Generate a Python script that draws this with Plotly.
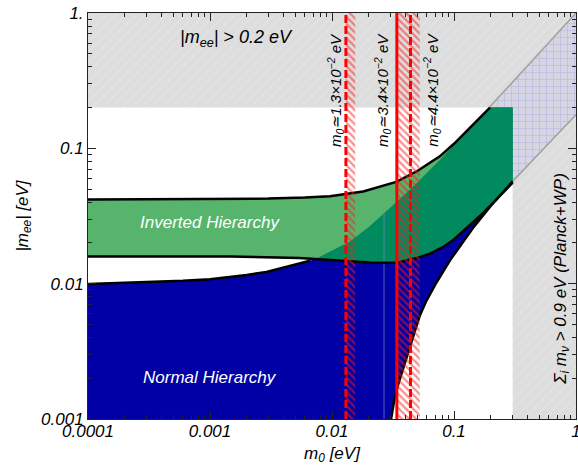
import numpy as np
import plotly.graph_objects as go

# ---------------- data ----------------
ih_up_m0 = [1e-4, 1e-3, 3e-3, 6e-3, 0.0096, 0.018, 0.0336, 0.05, 0.0765, 0.1, 0.13, 0.16, 0.197]
ih_up    = [0.0418, 0.0420, 0.0425, 0.0433, 0.0443, 0.0480, 0.0565, 0.0680, 0.0873, 0.108, 0.137, 0.166, 0.200]

ih_lo_m0 = [1e-4, 1.45e-3, 5.4e-3, 7.6e-3, 0.0204, 0.034, 0.0524, 0.065, 0.0809, 0.1, 0.127, 0.163, 0.22, 0.3025]
ih_lo    = [0.0159, 0.0159, 0.0155, 0.0152, 0.01435, 0.01428, 0.0157, 0.0168, 0.0186, 0.0212, 0.0256, 0.0316, 0.0415, 0.0557]

nh_up_m0 = [1e-4, 3e-4, 6e-4, 1e-3, 1.5e-3, 2e-3, 2.9e-3, 4e-3, 5.4e-3, 6.6e-3, 7.6e-3, 0.014, 0.02, 0.034,
            0.05, 0.0765, 0.1, 0.13, 0.197]
nh_up    = [0.00993, 0.0102, 0.0105, 0.0108, 0.0112, 0.0116, 0.0122, 0.0131, 0.0140, 0.0148, 0.0155, 0.0205,
            0.0262, 0.0403, 0.056, 0.082, 0.105, 0.135, 0.200]

nh_lo_m0 = [0.0305, 0.0325, 0.035, 0.0382, 0.045, 0.0524, 0.0595, 0.0718, 0.0924, 0.115, 0.143, 0.2, 0.3025]
nh_lo    = [0.001, 0.0014, 0.00182, 0.00236, 0.0038, 0.0058, 0.0075, 0.0102, 0.0148, 0.0197, 0.0258, 0.0375, 0.057]

cross_m0 = 0.0066          # where NH upper enters the IH band
mee_limit = 0.2            # |m_ee| > 0.2 eV excluded
m0_limit = 0.3025          # sum m_i > 0.9 eV excluded
diag_up_m0 = [0.194, 1.0]
diag_up    = [0.2, 1.0]
diag_lo_m0 = [0.3025, 1.0]
diag_lo    = [0.057, 0.177]

red_dashed = [0.013, 0.044]
red_solid = [0.034]
hatch_bands = [(0.013, 0.0155), (0.034, 0.0524)]
seam_m0 = 0.0267
seam_top = 0.033

xmin, xmax, ymin, ymax = 1e-4, 1.0, 1e-3, 1.0
x_major = [1e-4, 1e-3, 1e-2, 1e-1, 1]
x_major_text = ["0.0001", "0.001", "0.01", "0.1", "1"]
y_major = [1e-3, 1e-2, 1e-1, 1]
y_major_text = ["0.001", "0.01", "0.1", "1."]

BLUE = "#0000a4"
LGREEN = "#56b46c"
DGREEN = "#008a5e"

fig = go.Figure()

def poly(xs, ys, **kw):
    fig.add_trace(go.Scatter(x=xs, y=ys, mode="lines", fill="toself", line=dict(width=0),
                             hoverinfo="skip", showlegend=False, **kw))

def line(xs, ys, **kw):
    fig.add_trace(go.Scatter(x=xs, y=ys, mode="lines", hoverinfo="skip", showlegend=False, **kw))

# grey excluded regions (L-shape)
poly([xmin, m0_limit, m0_limit, xmax, xmax, xmin, xmin],
     [mee_limit, mee_limit, ymin, ymin, ymax, ymax, mee_limit],
     fillcolor="#dcdcdc",
     fillpattern=dict(shape="/", fgcolor="#eaeaea", bgcolor="#dddddd", size=7, solidity=0.15))

# blue hatched continuation band
poly([diag_up_m0[0], diag_up_m0[1], diag_lo_m0[1], diag_lo_m0[0], diag_up_m0[0]],
     [diag_up[0], diag_up[1], diag_lo[1], diag_lo[0], diag_up[0]],
     fillcolor="#d2d2e6",
     fillpattern=dict(shape="+", fgcolor="#a0a0e0", bgcolor="#d6d6e2", size=7, solidity=0.2))
line(diag_up_m0, diag_up, line=dict(color="#a0a0a0", width=1.5))
line(diag_lo_m0, diag_lo, line=dict(color="#a0a0a0", width=1.5))

# NH region
nx = list(nh_up_m0) + [m0_limit] + list(nh_lo_m0[::-1]) + [xmin, xmin]
ny = list(nh_up) + [mee_limit] + list(nh_lo[::-1]) + [ymin, nh_up[0]]
poly(nx, ny, fillcolor=BLUE)

# IH region
ix = list(ih_up_m0) + [m0_limit] + list(ih_lo_m0[::-1]) + [ih_up_m0[0]]
iy = list(ih_up) + [mee_limit] + list(ih_lo[::-1]) + [ih_up[0]]
poly(ix, iy, fillcolor=LGREEN)

# overlap region
ox = [m for m in nh_up_m0 if m >= cross_m0] + [m0_limit] + [m for m in ih_lo_m0[::-1] if m >= cross_m0]
oy = [v for m, v in zip(nh_up_m0, nh_up) if m >= cross_m0] + [mee_limit] + \
     [v for m, v in zip(ih_lo_m0[::-1], ih_lo[::-1]) if m >= cross_m0]
ox.append(ox[0]); oy.append(oy[0])
poly(ox, oy, fillcolor=DGREEN)

# seam line
line([seam_m0, seam_m0], [ymin, seam_top], line=dict(color="rgba(110,140,190,0.7)", width=1))

# boundaries
line(ih_up_m0, ih_up, line=dict(color="black", width=2.5))
line(ih_lo_m0, ih_lo, line=dict(color="black", width=2.5))
line([m for m in nh_up_m0 if m <= cross_m0], [v for m, v in zip(nh_up_m0, nh_up) if m <= cross_m0],
     line=dict(color="black", width=2.5))
line(nh_lo_m0, nh_lo, line=dict(color="black", width=2.5))

# red hatched bands
for a, b in hatch_bands:
    poly([a, b, b, a, a], [ymin, ymin, ymax, ymax, ymin], fillcolor="rgba(0,0,0,0)",
         fillpattern=dict(shape="\\", fgcolor="#ff1a1a", bgcolor="rgba(0,0,0,0)", size=5, solidity=0.45))
for v in red_solid:
    line([v, v], [ymin, ymax], line=dict(color="#ff0000", width=3))
for v in red_dashed:
    line([v, v], [ymin, ymax], line=dict(color="#ff0000", width=3, dash="8px,3px"))

FONT = "Liberation Sans, Arial, sans-serif"

def ann(text, x, y, size=16, color="black", angle=0, xanchor="center", yanchor="middle"):
    fig.add_annotation(text=text, x=x, y=y, xref="paper", yref="paper", showarrow=False,
                       textangle=angle, xanchor=xanchor, yanchor=yanchor,
                       font=dict(family=FONT, size=size, color=color, style="italic"))

ann("|m<sub>ee</sub>| > 0.2 eV", 0.305, 0.938, size=18)
ann("Inverted Hierarchy", 0.25, 0.485, size=17, color="white")
ann("Normal Hierarchy", 0.25, 0.103, size=17, color="white")
ann("m<sub>0</sub>≃1.3×10<sup>−2</sup> eV", 0.506, 0.81, size=15, angle=-90)
ann("m<sub>0</sub>≃3.4×10<sup>−2</sup> eV", 0.602, 0.81, size=15, angle=-90)
ann("m<sub>0</sub>≃4.4×10<sup>−2</sup> eV", 0.704, 0.81, size=15, angle=-90)
ann("Σ<sub>i</sub> m<sub>ν</sub> > 0.9 eV (Planck+WP)", 0.971, 0.345, size=17, angle=-90)

def minor_vals(lo, hi):
    out = []
    e = int(np.floor(np.log10(lo)))
    while 10.0 ** e < hi:
        for k in range(2, 10):
            v = k * 10.0 ** e
            if lo < v < hi:
                out.append(v)
        e += 1
    return out

axis_common = dict(type="log", showgrid=False, zeroline=False, showline=True, linecolor="#222",
                   linewidth=1, mirror="ticks", ticks="inside", ticklen=8, tickcolor="#222",
                   ticklabeloverflow="allow", automargin=False,
                   tickfont=dict(family=FONT, size=17, color="black", style="italic"))

fig.update_xaxes(**axis_common, range=[np.log10(xmin), np.log10(xmax)],
                 tickvals=x_major, ticktext=x_major_text, ticklabelstandoff=-3,
                 minor=dict(ticks="inside", ticklen=4, tickcolor="#222", showgrid=False,
                            tickvals=minor_vals(xmin, xmax)),
                 title=dict(text="m<sub>0</sub> [eV]", standoff=6,
                            font=dict(family=FONT, size=17, color="black", style="italic")))
fig.update_yaxes(**axis_common, range=[np.log10(ymin), np.log10(ymax)],
                 tickvals=y_major, ticktext=y_major_text,
                 minor=dict(ticks="inside", ticklen=4, tickcolor="#222", showgrid=False,
                            tickvals=minor_vals(ymin, ymax)),
                 title=dict(text="|m<sub>ee</sub>| [eV]", standoff=8,
                            font=dict(family=FONT, size=17, color="black", style="italic")))

fig.update_layout(width=578, height=468, margin=dict(l=88, r=2, t=13, b=49, autoexpand=False),
                  plot_bgcolor="white", paper_bgcolor="white", showlegend=False)

# remove the default page margin so the figure fills the 578x468 window exactly
fig.write_html("out.html", config={"displayModeBar": False},
               post_script="document.body.style.margin='0px';"
                           "document.documentElement.style.overflow='hidden';")
